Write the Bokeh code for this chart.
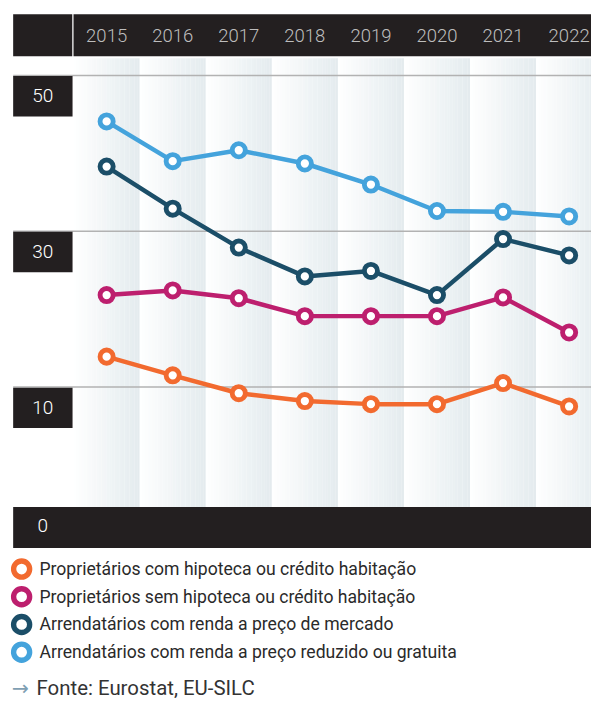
from bokeh.plotting import figure
from bokeh.models import Range1d
from bokeh.embed import file_html
from bokeh.resources import INLINE
from bokeh.core.properties import value

# ---------------- data ----------------
years = [2015, 2016, 2017, 2018, 2019, 2020, 2021, 2022]
year_labels = ["2015", "2016", "2017", "2018", "2019", "2020", "2021", "2022"]

owners_mortgage = [13.9, 11.5, 9.2, 8.2, 7.8, 7.8, 10.5, 7.5]
owners_no_mortgage = [21.8, 22.4, 21.4, 19.1, 19.1, 19.1, 21.5, 17.0]
tenants_market = [38.3, 32.9, 27.9, 24.2, 24.9, 21.8, 29.0, 26.9]
tenants_reduced = [44.1, 39.0, 40.4, 38.7, 36.0, 32.6, 32.5, 31.9]

series_names = [
    "Proprietários com hipoteca ou crédito habitação",
    "Proprietários sem hipoteca ou crédito habitação",
    "Arrendatários com renda a preço de mercado",
    "Arrendatários com renda a preço reduzido ou gratuita",
]
series_values = [owners_mortgage, owners_no_mortgage, tenants_market, tenants_reduced]
series_colors = ["#f26a2f", "#bd1f6e", "#1b4e68", "#44a3dc"]

y_ticks = [50, 30, 10]
y_tick_labels = ["50", "30", "10"]
baseline_label = "0"
source_text = "Fonte: Eurostat, EU-SILC"

# ---------------- geometry ----------------
# layout designed on a 607 x 719 canvas, rendered into 591 x 703
REF_W, REF_H = 607, 719
W, H = 591, 703
PX_PER_YEAR = 67.86
X2015 = 109.0
PX_PER_UNIT = 7.965
Y30 = 236.0

x_left = 2015 - X2015 / PX_PER_YEAR
x_right = x_left + REF_W / PX_PER_YEAR
y_top = 30 + Y30 / PX_PER_UNIT
y_bottom = y_top - REF_H / PX_PER_UNIT
K = W / REF_W  # size factor


def px(xr):
    return x_left + xr / PX_PER_YEAR


def py(yr):
    return y_top - yr / PX_PER_UNIT


def fs(v):
    return value("%.1fpx" % (v * K))


DARK = "#231f20"
FONT = value("Roboto")
LIGHT_FONT = value("Roboto Light, Lato Light, Roboto")

p = figure(width=W, height=H, x_range=Range1d(x_left, x_right),
           y_range=Range1d(y_bottom, y_top), x_axis_type=None, y_axis_type=None,
           output_backend="svg", toolbar_location=None, min_border=0,
           outline_line_color=None, background_fill_color="white",
           border_fill_color="white")
p.grid.visible = False

# ---------------- column gradients ----------------
N = 26
c0 = (255, 255, 255)
c1 = (227, 235, 238)
lefts, rights, cols = [], [], []
for yr in years:
    for i in range(N):
        t = (i + 0.5) / N
        col = tuple(int(round(c0[k] + (c1[k] - c0[k]) * t)) for k in range(3))
        lefts.append(yr - 0.5 + i / N)
        rights.append(yr - 0.5 + (i + 1) / N + 0.002)
        cols.append("#%02x%02x%02x" % col)
p.quad(left=lefts, right=rights, top=py(59), bottom=py(518), fill_color=cols,
       line_color=None)

# ---------------- gridlines ----------------
p.segment(x0=px(13), x1=x_right, y0=y_ticks, y1=y_ticks, line_color="#b2b2b2",
          line_width=1.5)

# ---------------- y label boxes ----------------
box_h = 42 / PX_PER_UNIT
p.quad(left=px(13), right=px(74), top=[t - 0.08 for t in y_ticks],
       bottom=[t - box_h for t in y_ticks], fill_color=DARK, line_color=None)
p.text(x=px(43.5), y=[t - 20.5 / PX_PER_UNIT for t in y_ticks], text=y_tick_labels,
       text_color="white", text_font=LIGHT_FONT, text_font_size=fs(19.5),
       text_align="center", text_baseline="middle")

# ---------------- header ----------------
p.quad(left=[px(13), px(75)], right=[px(73.7), x_right + 1], top=py(14),
       bottom=py(57), fill_color=DARK, line_color=None)
p.text(x=years, y=py(36), text=year_labels, text_color="#bdbdbd",
       text_font=LIGHT_FONT, text_font_size=fs(19), text_align="center",
       text_baseline="middle")

# ---------------- bottom bar ----------------
p.quad(left=px(13), right=x_right + 1, top=py(518), bottom=py(560),
       fill_color=DARK, line_color=None)
p.text(x=px(43.5), y=py(537), text=[baseline_label], text_color="white",
       text_font=LIGHT_FONT, text_font_size=fs(19.5), text_align="center",
       text_baseline="middle")

# ---------------- series ----------------
for vals, col in zip(series_values, series_colors):
    p.line(years, vals, line_color=col, line_width=4.6 * K)
    p.scatter(years, vals, size=13.5 * K, fill_color="white", line_color=col,
              line_width=5 * K)

# ---------------- legend ----------------
rows = [581.5, 609.8, 638.2, 666.5]
p.scatter(x=px(21.7), y=[py(r) for r in rows], size=16.5 * K, fill_color="white",
          line_color=series_colors, line_width=5.5 * K)
p.text(x=px(40), y=[py(r) for r in rows], text=series_names, text_color="#2a2a2a",
       text_font=FONT, text_font_size=fs(18.1), text_align="left",
       text_baseline="middle")

# ---------------- source ----------------
p.text(x=px(11.5), y=py(703), text=["→"], text_color="#7f9fb3",
       text_font=value("DejaVu Sans"), text_font_size=fs(21),
       text_align="left", text_baseline="middle")
p.text(x=px(37), y=py(703.5), text=[source_text], text_color="#333333",
       text_font=FONT, text_font_size=fs(21), text_align="left",
       text_baseline="middle")

open("out.html", "w").write(file_html(p, INLINE))
